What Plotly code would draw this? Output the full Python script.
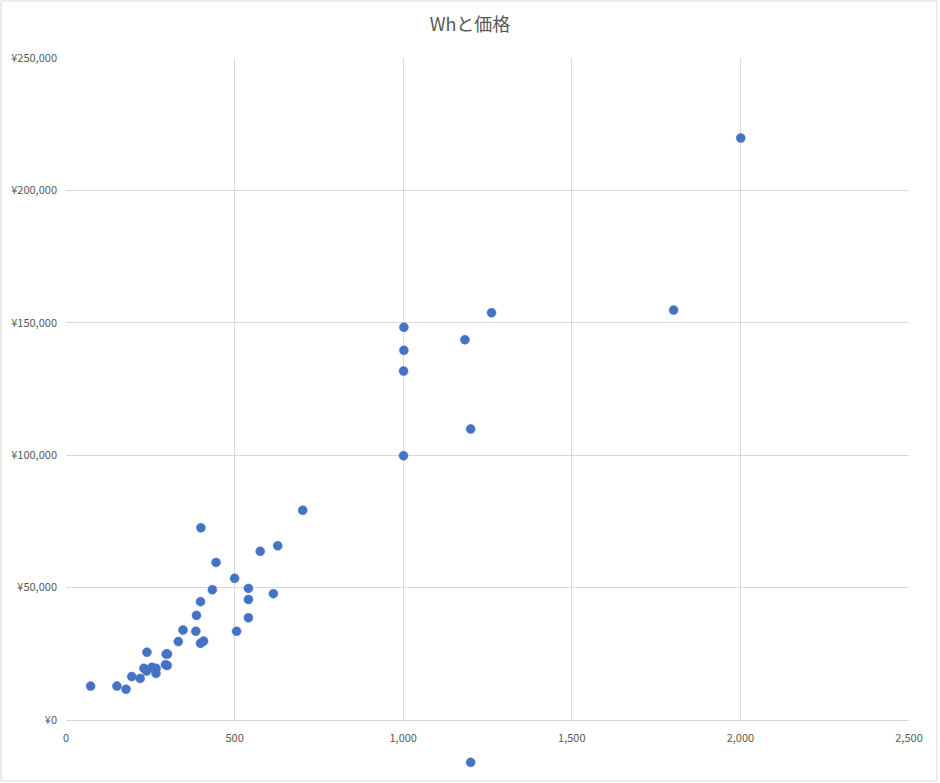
import plotly.graph_objects as go

# Data
wh = [73, 151, 178, 195, 220, 240, 231, 239, 255, 267, 267, 297, 301, 295, 300,
      333, 347, 385, 387, 399, 399, 408, 400, 434, 445, 500, 506, 541, 541, 541,
      576, 615, 628, 702,
      1002, 1002, 1001, 1001, 1183, 1200, 1262, 2001, 1802, 1200]
price = [12800, 12800, 11600, 16400, 15700, 25600, 19500, 18500, 19900, 19500, 17600, 24900, 24900, 20900, 20600,
         29600, 34000, 33500, 39500, 44700, 29000, 29800, 72600, 49200, 59500, 53500, 33500, 49700, 45500, 38600,
         63700, 47700, 65800, 79200,
         148300, 139600, 131800, 99800, 143600, 109900, 153800, 219800, 154800, -16000]

title_text = "Whと価格"
x_ticks = [0, 500, 1000, 1500, 2000, 2500]
x_tick_labels = ["0", "500", "1,000", "1,500", "2,000", "2,500"]
y_ticks = [0, 50000, 100000, 150000, 200000, 250000]
y_tick_labels = ["¥0", "¥50,000", "¥100,000", "¥150,000", "¥200,000", "¥250,000"]

X_MIN, X_MAX = 0, 2500
Y_MIN, Y_MAX = 0, 250000

# Pixel layout
W, H = 940, 783
plot_left, plot_right = 66, 909
plot_top, plot_bottom = 58, 720
paper_bottom = 775
ml, mr, mt, mb = plot_left, W - plot_right, plot_top, H - paper_bottom
pw, ph = plot_right - plot_left, paper_bottom - plot_top
y_dom0 = (paper_bottom - plot_bottom) / ph
# extended (invisible) y axis with the same scale, reaching the paper bottom
units_per_px = (Y_MAX - Y_MIN) / (plot_bottom - plot_top)
y2_min = Y_MIN - (paper_bottom - plot_bottom) * units_per_px

in_x = [a for a, b in zip(wh, price) if b >= Y_MIN]
in_y = [b for b in price if b >= Y_MIN]
out_x = [a for a, b in zip(wh, price) if b < Y_MIN]
out_y = [b for b in price if b < Y_MIN]

marker = dict(color="#4472C4", size=9, line=dict(color="#4472C4", width=0.5))
fig = go.Figure()
fig.add_trace(go.Scatter(x=in_x, y=in_y, mode="markers", marker=marker,
                         cliponaxis=False, showlegend=False, xaxis="x", yaxis="y"))
fig.add_trace(go.Scatter(x=out_x, y=out_y, mode="markers", marker=marker,
                         cliponaxis=False, showlegend=False, xaxis="x2", yaxis="y2"))

font_family = "Noto Sans CJK JP, Noto Sans, sans-serif"
fig.update_layout(
    width=W, height=H, autosize=False,
    margin=dict(l=ml, r=mr, t=mt, b=mb, pad=0, autoexpand=False),
    paper_bgcolor="white", plot_bgcolor="rgba(0,0,0,0)",
    font=dict(family=font_family, color="#595959", size=11),
    title=dict(text=title_text, x=0.5, xref="container", xanchor="center",
               y=1 - 25 / H, yref="container", yanchor="middle",
               font=dict(size=18, color="#595959", family=font_family)),
    xaxis=dict(range=[X_MIN, X_MAX], tickvals=x_ticks, ticktext=x_tick_labels,
               domain=[0, 1], anchor="y", automargin=False,
               showgrid=True, gridcolor="#d9d9d9", gridwidth=1,
               zeroline=False, showline=True, linecolor="#d9d9d9", mirror=False,
               ticks="", ticklabelstandoff=8, tickfont=dict(size=11, color="#595959")),
    yaxis=dict(range=[Y_MIN, Y_MAX], tickvals=y_ticks, ticktext=y_tick_labels,
               domain=[y_dom0, 1], anchor="x", automargin=False,
               showgrid=True, gridcolor="#d9d9d9", gridwidth=1,
               zeroline=False, showline=False,
               ticks="", ticklabelstandoff=8, tickfont=dict(size=11, color="#595959")),
    xaxis2=dict(range=[X_MIN, X_MAX], domain=[0, 1], anchor="y2", visible=False,
                automargin=False, showgrid=False, zeroline=False),
    yaxis2=dict(range=[y2_min, Y_MAX], domain=[0, 1], anchor="x2", visible=False,
                automargin=False, showgrid=False, zeroline=False),
    shapes=[dict(type="rect", xref="paper", yref="paper",
                 x0=(1 - plot_left) / pw, x1=(W - 3 - plot_left) / pw,
                 y0=(paper_bottom - (H - 2)) / ph, y1=(paper_bottom - 1) / ph,
                 line=dict(color="#d9d9d9", width=1), fillcolor="rgba(0,0,0,0)", layer="below")],
)

fig.write_html("out.html", config={"staticPlot": True, "displayModeBar": False},
               post_script=("document.documentElement.style.margin='0';"
                            "document.documentElement.style.overflow='hidden';"
                            "document.body.style.margin='0';"
                            "document.body.style.overflow='hidden';"))
